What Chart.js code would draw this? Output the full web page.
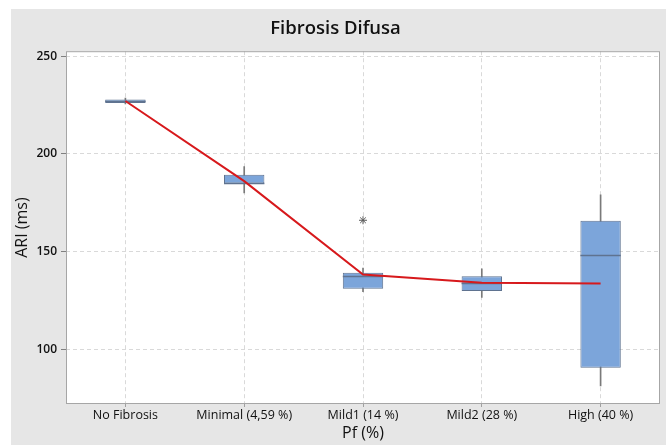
<!DOCTYPE html>
<html>
<head>
<meta charset="utf-8">
<script src="https://cdn.jsdelivr.net/npm/chart.js@4.4.1/dist/chart.umd.min.js"></script>
<style>
  body { margin: 0; background: #ffffff; }
  #wrap { position: absolute; left: 11px; top: 9px; width: 655px; height: 436px; background: #e6e6e6; }
</style>
</head>
<body>
<div id="wrap"><canvas id="box-chart" width="655" height="436"></canvas></div>
<script>
const categories = ['No Fibrosis', 'Minimal (4,59 %)', 'Mild1 (14 %)', 'Mild2 (28 %)', 'High (40 %)'];
const whiskerLow = [225.5, 180, 129.5, 126.5, 81.3];
const q1 = [226, 184.8, 131, 129.8, 90.6];
const medians = [227, 185.3, 137.5, 134, 148];
const q3 = [227.8, 189.3, 139.2, 137.4, 165.8];
const whiskerHigh = [228.5, 193.5, 141.5, 141.2, 179];
const means = [227, 186, 138.3, 134, 133.7];
const outliers = [null, null, 166, null, null];
const yTicks = [100, 150, 200, 250];

(function () {
  'use strict';

  const boxes = q1.map((v, i) => [v, q3[i]]);
  const whiskers = whiskerLow.map((v, i) => [v, whiskerHigh[i]]);
  const fontFamily = "'Open Sans', 'Noto Sans', sans-serif";

  // white plot area + frame
  const plotBackground = {
    id: 'plotBackground',
    beforeDraw: function (chart) {
      const a = chart.chartArea;
      const ctx = chart.ctx;
      ctx.save();
      ctx.fillStyle = '#ffffff';
      ctx.fillRect(a.left, a.top, a.right - a.left, a.bottom - a.top);
      ctx.restore();
    },
    afterDatasetsDraw: function (chart) {
      const a = chart.chartArea;
      const ctx = chart.ctx;
      ctx.save();
      ctx.strokeStyle = '#a6a6a6';
      ctx.lineWidth = 1;
      ctx.strokeRect(a.left + 0.5, a.top + 0.5, a.right - a.left - 1, a.bottom - a.top - 1);
      ctx.restore();
    }
  };

  // median line across each box
  const medianLines = {
    id: 'medianLines',
    afterDatasetDraw: function (chart, args) {
      if (args.meta.label !== 'IQR') return;
      const ctx = chart.ctx;
      const y = chart.scales.y;
      ctx.save();
      ctx.strokeStyle = '#5f7390';
      ctx.lineWidth = 1.5;
      args.meta.data.forEach(function (bar, i) {
        const py = Math.round(y.getPixelForValue(medians[i])) + 0.5;
        ctx.beginPath();
        ctx.moveTo(bar.x - bar.width / 2, py);
        ctx.lineTo(bar.x + bar.width / 2, py);
        ctx.stroke();
      });
      ctx.restore();
    }
  };

  new Chart(document.getElementById('box-chart'), {
    type: 'bar',
    data: {
      labels: categories,
      datasets: [{
        type: 'line',
        label: 'Mean',
        data: means,
        borderColor: '#d7191c',
        borderWidth: 2,
        pointRadius: 0,
        fill: false,
        tension: 0,
        order: 0
      }, {
        type: 'line',
        label: 'Outlier',
        data: outliers,
        showLine: false,
        pointStyle: 'star',
        pointRadius: 4,
        borderColor: '#5a5a5a',
        borderWidth: 1,
        order: 1
      }, {
        label: 'IQR',
        data: boxes,
        backgroundColor: '#7ca5da',
        borderColor: '#5f7390',
        borderWidth: 1,
        borderSkipped: false,
        grouped: false,
        categoryPercentage: 1,
        barPercentage: 0.34,
        order: 2
      }, {
        label: 'Whisker',
        data: whiskers,
        backgroundColor: '#7a7a7a',
        borderWidth: 0,
        grouped: false,
        barThickness: 1,
        order: 3
      }]
    },
    options: {
      responsive: false,
      animation: false,
      layout: { padding: { left: 0, right: 6, top: 0, bottom: 0 } },
      plugins: {
        legend: { display: false },
        tooltip: { enabled: false },
        title: {
          display: true,
          text: 'Fibrosis Difusa',
          color: '#111111',
          font: { family: fontFamily, size: 18.5, weight: '600' },
          padding: { top: 9, bottom: 11 }
        }
      },
      scales: {
        x: {
          offset: true,
          grid: {
            offset: false,
            color: '#d9d9d9',
            tickColor: '#a0a0a0',
            tickLength: 3,
            tickBorderDash: []
          },
          border: { display: false, dash: [4, 3] },
          ticks: {
            color: '#111111',
            padding: 1,
            maxRotation: 0,
            autoSkip: false,
            font: { family: fontFamily, size: 12.5 }
          },
          title: {
            display: true,
            text: 'Pf (%)',
            color: '#111111',
            font: { family: fontFamily, size: 16 },
            padding: { top: 0, bottom: 2 }
          },
          afterFit: function (scale) { scale.height = 41; }
        },
        y: {
          min: 72,
          max: 252.5,
          grid: {
            color: '#d9d9d9',
            tickColor: '#808080',
            tickLength: 5,
            tickBorderDash: []
          },
          border: { display: false, dash: [4, 3] },
          ticks: {
            color: '#111111',
            padding: 4,
            font: { family: fontFamily, size: 12, weight: '600' }
          },
          afterBuildTicks: function (scale) {
            scale.ticks = yTicks.map(v => ({ value: v }));
          },
          title: {
            display: true,
            text: 'ARI (ms)',
            color: '#111111',
            font: { family: fontFamily, size: 16 },
            padding: { top: 2, bottom: 0 }
          },
          afterFit: function (scale) { scale.width = 55; }
        }
      }
    },
    plugins: [plotBackground, medianLines]
  });
})();
</script>
</body>
</html>
